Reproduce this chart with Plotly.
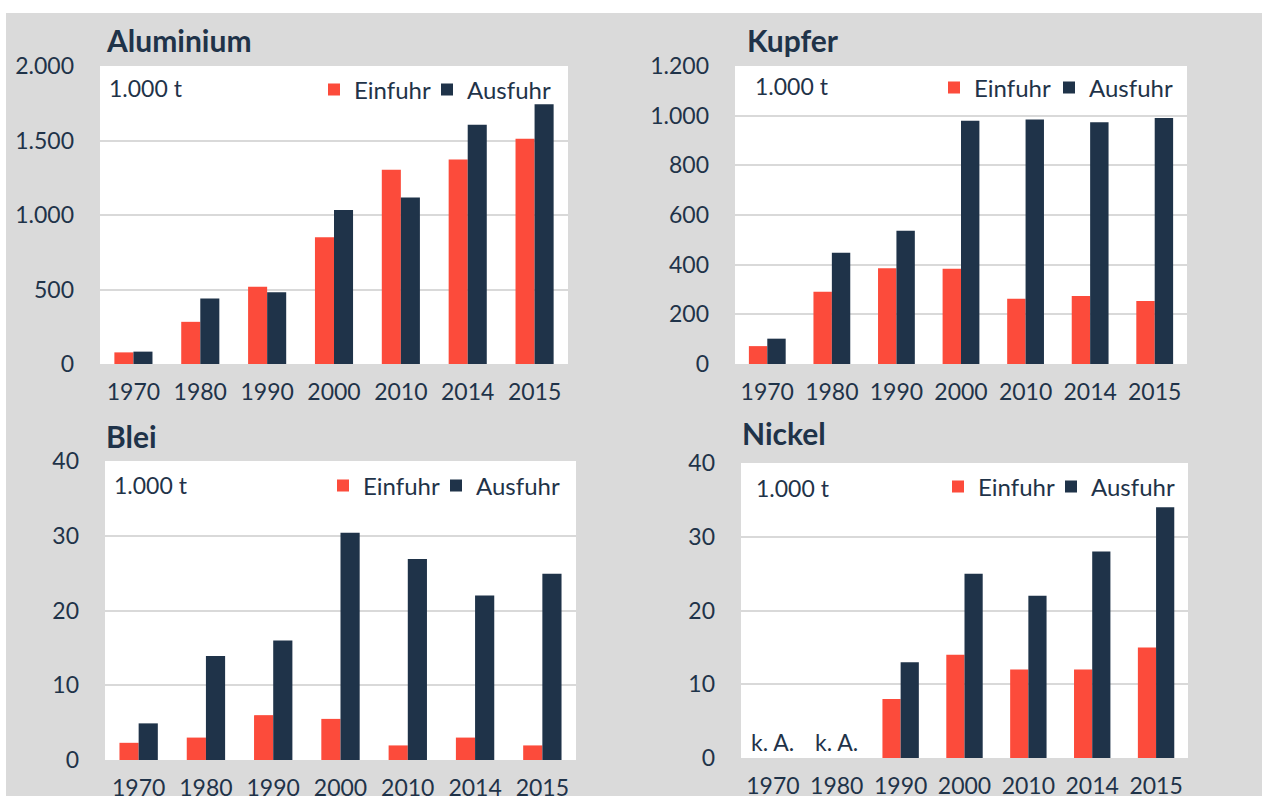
import plotly.graph_objects as go

W, H = 1262, 796

years = ["1970", "1980", "1990", "2000", "2010", "2014", "2015"]

alu_ein = [78, 283, 518, 850, 1304, 1373, 1511]
alu_aus = [83, 440, 482, 1033, 1118, 1605, 1743]

kup_ein = [72, 291, 386, 384, 263, 274, 254]
kup_aus = [102, 448, 537, 980, 985, 973, 991]

blei_ein = [2.3, 3.0, 6.0, 5.5, 1.95, 3.0, 1.95]
blei_aus = [4.9, 13.9, 16.0, 30.4, 26.9, 22.0, 24.9]

nic_ein = [None, None, 8.0, 14.0, 12.0, 12.0, 15.0]
nic_aus = [None, None, 13.0, 25.0, 22.0, 28.0, 34.0]

alu_ticks = [0, 500, 1000, 1500, 2000]
alu_ticktext = ["0", "500", "1.000", "1.500", "2.000"]
kup_ticks = [0, 200, 400, 600, 800, 1000, 1200]
kup_ticktext = ["0", "200", "400", "600", "800", "1.000", "1.200"]
small_ticks = [0, 10, 20, 30, 40]
small_ticktext = ["0", "10", "20", "30", "40"]

titles = ["Aluminium", "Kupfer", "Blei", "Nickel"]
unit_label = "1.000 t"
na_label = "k. A."
series_names = ["Einfuhr", "Ausfuhr"]

RED = "#FC4B3B"
NAVY = "#1F3349"
TXT = "#1F3349"
BG = "#DADADA"
GRID = "#D9D9D9"
FONT = "Lato"


def px(x):
    return x / W


def py(y):
    return 1 - y / H


# panel boxes in pixels: left, right, top, bottom
boxes = [(100, 568, 66, 364), (735, 1187, 66, 364), (105, 576, 461, 760), (741, 1188, 463, 758)]
title_pos = [(104, 40), (745, 40), (104, 436), (740, 433)]
unit_pos = [(107, 88), (753, 86), (112, 485), (754, 488)]
# legend text start x for (Einfuhr, Ausfuhr), and centre y
legend_pos = [((353, 466), 90), ((973, 1088), 88), ((362, 475), 486), ((977, 1090), 487)]

data = [(alu_ein, alu_aus), (kup_ein, kup_aus), (blei_ein, blei_aus), (nic_ein, nic_aus)]
yranges = [2000, 1200, 40, 40]
ytick = [(alu_ticks, alu_ticktext), (kup_ticks, kup_ticktext), (small_ticks, small_ticktext), (small_ticks, small_ticktext)]
colors = [RED, NAVY]

fig = go.Figure()
layout = dict(
    template="none",
    width=W, height=H,
    autosize=False,
    margin=dict(l=0, r=0, t=0, b=0, pad=0, autoexpand=False),
    paper_bgcolor=BG,
    plot_bgcolor="white",
    barmode="group",
    bargap=0.43,
    bargroupgap=0,
    font=dict(family=FONT, size=23, color=TXT),
    shapes=[
        dict(type="rect", xref="paper", yref="paper", x0=0, x1=1, y0=py(13), y1=1,
             fillcolor="white", line=dict(width=0), layer="below"),
        dict(type="rect", xref="paper", yref="paper", x0=0, x1=px(6), y0=0, y1=1,
             fillcolor="white", line=dict(width=0), layer="below"),
    ],
    annotations=[],
)

for i in range(4):
    l, r, t, b = boxes[i]
    sfx = "" if i == 0 else str(i + 1)
    xa, ya = "x" + sfx, "y" + sfx
    ein, aus = data[i]
    (tx_e, tx_a), ly = legend_pos[i]
    for j, (vals, tstart) in enumerate([(ein, tx_e), (aus, tx_a)]):
        k = 2 * i + j + 1
        leg = "legend" if k == 1 else "legend" + str(k)
        fig.add_trace(go.Bar(x=years, y=vals, name=series_names[j],
                             marker=dict(color=colors[j], line=dict(width=0)),
                             xaxis=xa, yaxis=ya, legend=leg, showlegend=True))
        layout[leg] = dict(
            x=px(tstart - 39), y=py(ly), xanchor="left", yanchor="middle", xref="paper", yref="paper",
            orientation="h", bgcolor="rgba(0,0,0,0)", borderwidth=0,
            font=dict(family=FONT, size=24, color=TXT),
        )
    layout["xaxis" + sfx] = dict(
        domain=[px(l), px(r)], anchor=ya, type="category", categoryorder="array", categoryarray=years,
        range=[-0.5, len(years) - 0.5], automargin=False,
        showgrid=False, zeroline=False, showline=False, ticks="",
        tickfont=dict(family=FONT, size=23, color=TXT), ticklabelstandoff=12,
    )
    layout["yaxis" + sfx] = dict(
        domain=[py(b), py(t)], anchor=xa, range=[0, yranges[i]], automargin=False,
        tickvals=ytick[i][0], ticktext=ytick[i][1],
        showgrid=True, gridcolor=GRID, gridwidth=1.5, zeroline=False, showline=False, ticks="",
        tickfont=dict(family=FONT, size=23, color=TXT), ticklabelstandoff=25,
    )
    tx, ty = title_pos[i]
    layout["annotations"].append(dict(
        text=titles[i], x=px(tx), y=py(ty), xref="paper", yref="paper", xanchor="left", yanchor="middle",
        showarrow=False, font=dict(family=FONT, size=30, color=TXT, weight="bold"),
    ))
    ux, uy = unit_pos[i]
    layout["annotations"].append(dict(
        text=unit_label, x=px(ux), y=py(uy), xref="paper", yref="paper", xanchor="left", yanchor="middle",
        showarrow=False, font=dict(family=FONT, size=23, color=TXT),
    ))

for idx, yr in enumerate(years):
    if nic_ein[idx] is None and nic_aus[idx] is None:
        layout["annotations"].append(dict(
            text=na_label, x=idx, y=0, xref="x4", yref="y4", xanchor="center", yanchor="bottom",
            showarrow=False, font=dict(family=FONT, size=23, color=TXT),
        ))

fig.update_layout(**layout)
fig.write_html("out.html", config={"displayModeBar": False},
               post_script="document.body.style.margin='0px';")
